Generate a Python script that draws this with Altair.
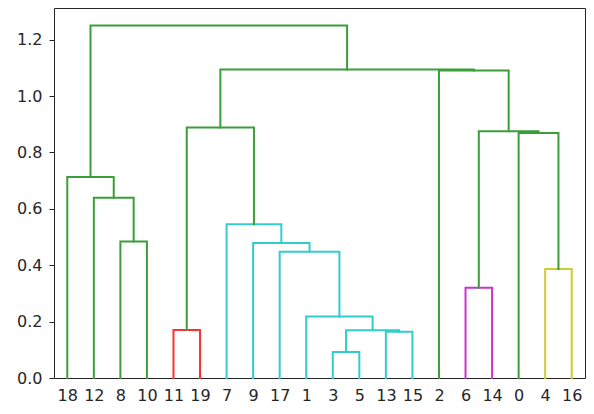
import altair as alt
import pandas as pd

# Leaf labels in dendrogram order (left to right)
leaf_labels = [18, 12, 8, 10, 11, 19, 7, 9, 17, 1, 3, 5, 13, 15, 2, 6, 14, 0, 4, 16]

# Merges: children (leaf label or "m<k>" = k-th merge), height and cluster colour
merge_left = ["3", "13", "11", "m0", "1", "6", "4", "17", "9", "8",
              "7", "12", "18", "0", "m5", "m2", "2", "m15", "m12"]
merge_right = ["5", "15", "19", "m1", "m3", "14", "16", "m4", "m7", "10",
               "m8", "m9", "m11", "m6", "m13", "m10", "m14", "m16", "m17"]
merge_height = [0.092, 0.164, 0.170, 0.169, 0.218, 0.320, 0.387, 0.448, 0.479, 0.484,
                0.545, 0.639, 0.713, 0.869, 0.875, 0.889, 1.091, 1.094, 1.250]
merge_color = ["c", "c", "r", "c", "c", "m", "y", "c", "c", "g",
               "c", "g", "g", "g", "g", "g", "g", "g", "g"]

palette = {"g": "#3a9e3a", "r": "#ff3030", "c": "#33cccc", "m": "#cc33cc", "y": "#cccc33"}

# Build link geometry (scipy-like: leaves at 5, 15, 25, ...)
pos = {}
hgt = {}
for i, lab in enumerate(leaf_labels):
    pos[str(lab)] = 5 + 10 * i
    hgt[str(lab)] = 0.0

rows = []
for k, (a, b, h, c) in enumerate(zip(merge_left, merge_right, merge_height, merge_color)):
    xa, xb = pos[a], pos[b]
    pts = [(xa, hgt[a]), (xa, h), (xb, h), (xb, hgt[b])]
    for j, (x, y) in enumerate(pts):
        rows.append({"link": k, "idx": j, "x": x, "y": y, "color": palette[c]})
    pos["m%d" % k] = (xa + xb) / 2
    hgt["m%d" % k] = h

df = pd.DataFrame(rows)

label_arr = "[" + ",".join("'%s'" % l for l in leaf_labels) + "]"
ymax = max(merge_height) * 1.05

chart = alt.Chart(df).mark_line(strokeWidth=2, strokeCap="square", strokeJoin="miter").encode(
    x=alt.X("x:Q", scale=alt.Scale(domain=[0, 10 * len(leaf_labels)], nice=False, zero=False),
            axis=alt.Axis(title=None, values=[5 + 10 * i for i in range(len(leaf_labels))],
                          labelExpr=label_arr + "[round((datum.value - 5) / 10)]",
                          ticks=False, labelPadding=9, grid=False, domain=False,
                          labelFontSize=16, labelColor="#262626", labelFont="DejaVu Sans",
                          labelAngle=0, labelOverlap=False)),
    y=alt.Y("y:Q", scale=alt.Scale(domain=[0, ymax], nice=False),
            axis=alt.Axis(title=None, values=[0, 0.2, 0.4, 0.6, 0.8, 1.0, 1.2], format=".1f",
                          tickSize=5, tickColor="#262626", tickWidth=1, labelPadding=7, grid=False,
                          domain=False, labelFontSize=16, labelColor="#262626",
                          labelFont="DejaVu Sans")),
    color=alt.Color("color:N", scale=None),
    detail="link:N",
    order="idx:Q",
).properties(
    width=531, height=370,
    autosize=alt.AutoSizeParams(type="none"),
    padding={"left": 46, "top": 0, "right": 1, "bottom": 28},
).configure_view(stroke="#262626", strokeWidth=1)

chart.save("out.html", embed_options={"renderer": "svg", "actions": False})
